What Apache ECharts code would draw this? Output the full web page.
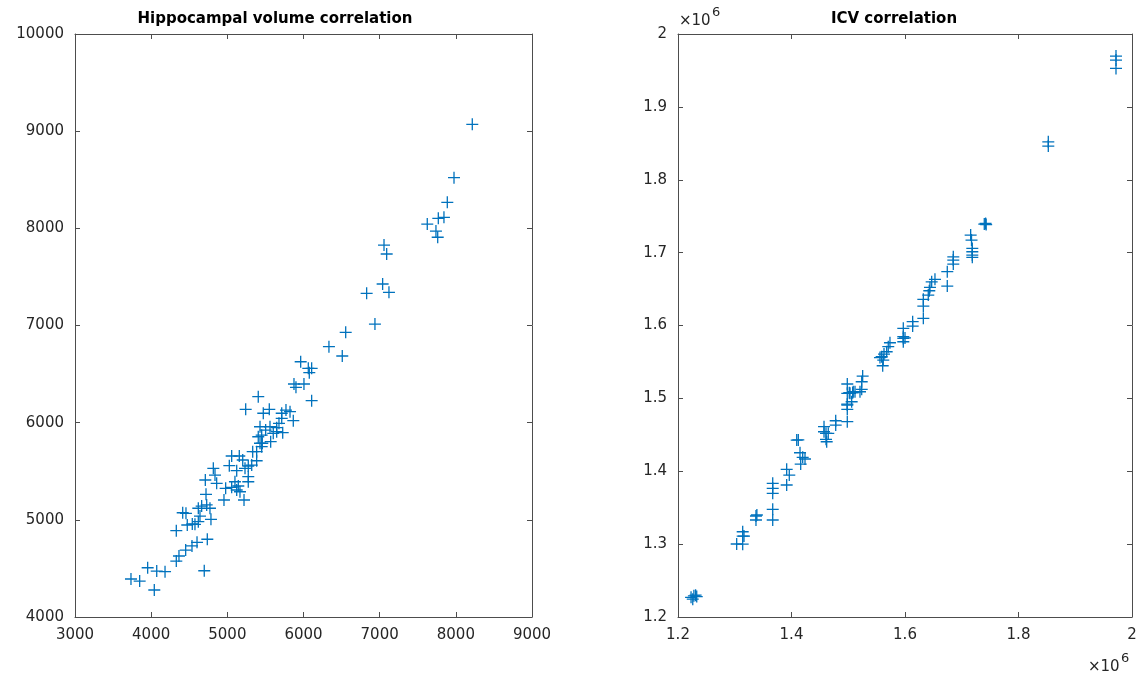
<!DOCTYPE html>
<html>
<head>
<meta charset="utf-8">
<script src="https://cdn.jsdelivr.net/npm/echarts@6/dist/echarts.min.js"></script>
<style>
  html, body { margin: 0; padding: 0; background: #ffffff; }
  #chart { width: 1142px; height: 677px; }
</style>
</head>
<body>
<div id="chart"></div>
<script>
// Hippocampal volume: measured (x) vs. estimated (y)
const hippoX = [3735,3849,3954,4041,4073,4182,4697,4330,4365,4453,4536,4602,4737,4330,4474,4540,4575,4619,4785,4414,
  4457,4641,4619,4663,4729,4772,4720,4956,5219,4978,5057,5144,5123,5166,5100,5275,4860,4711,4816,4838,
  5026,5057,5157,5202,5123,5232,5275,5275,5320,5385,5333,5385,5451,5459,5406,5429,5503,5569,5560,5603,
  5648,5727,5678,5714,5714,5770,5823,5866,5472,5551,5241,5406,5875,6006,5901,6107,5963,6063,6107,6076,
  6334,6509,6554,6829,6938,7039,7122,7057,7092,7625,7739,7762,7770,7844,7888,7976,8216,5648,5451,5429];
const hippoY = [4391,4370,4507,4278,4473,4466,4476,4576,4628,4689,4731,4769,4800,4888,4947,4957,4954,4981,5005,5073,
  5067,5039,5119,5142,5153,5119,5263,5204,5204,5324,5335,5348,5307,5289,5392,5392,5376,5410,5530,5461,
  5557,5657,5657,5616,5506,5530,5444,5554,5564,5608,5701,5701,5753,5788,5855,5958,5924,5804,5958,5890,
  5907,5897,5993,6045,6097,6130,6113,6020,6097,6137,6137,6267,6398,6398,6364,6226,6627,6559,6559,6514,
  6782,6686,6930,7331,7015,7427,7341,7828,7736,8044,7972,7908,8103,8113,8268,8521,9070,5948,5871,5788];

// Intracranial volume: measured (x) vs. estimated (y)
const icvX = [1223000,1228000,1226000,1233000,1231000,1303400,1314000,1314000,1316300,1314000,1337400,1337400,1339000,
  1366900,1366900,1366900,1366900,1366900,1391500,1396100,1391500,1409200,1412000,1415000,1419700,1423800,1416200,
  1457300,1457300,1460800,1464800,1460800,1462000,1477900,1477900,1498300,1498300,1498300,1498300,1503100,1507800,
  1511900,1506000,1498300,1523700,1523700,1520700,1525400,1508800,1501800,1498300,1558900,1555900,1561700,1560700,
  1563000,1567700,1570500,1573500,1597000,1597000,1597000,1597000,1600000,1613500,1613500,1632300,1632300,1632300,
  1641000,1642800,1644000,1647000,1652800,1674500,1674500,1685100,1685100,1685100,1715700,1717200,1718600,1718600,
  1718600,1718600,1739700,1742000,1743000,1852500,1852500,1971800,1971800,1971800];
const icvY = [1227000,1229000,1224500,1228000,1230000,1300200,1300000,1311000,1311000,1317000,1338600,1333100,1340000,
  1383400,1376600,1369700,1347800,1333100,1402600,1394800,1381100,1442800,1443000,1425400,1419100,1416800,1409900,
  1461100,1454200,1452000,1452000,1443800,1440500,1469300,1463400,1468000,1490900,1485000,1506900,1506900,1507700,
  1509100,1495400,1519700,1522800,1512400,1509100,1530600,1509100,1507700,1492200,1557100,1556000,1552600,1544800,
  1560800,1564000,1570900,1576300,1596100,1584600,1582300,1577700,1583000,1605200,1599200,1635900,1626700,1609800,
  1641800,1647700,1652300,1660000,1663300,1673800,1654100,1694300,1689800,1684300,1724100,1717200,1705800,1701200,
  1696700,1693500,1739200,1740000,1738500,1852100,1846200,1969700,1964200,1952800];

// Axis tick settings
const hippoXTicks = { min: 3000, max: 9000, interval: 1000 };
const hippoYTicks = { min: 4000, max: 10000, interval: 1000 };
const icvXTicks = { min: 1200000, max: 2000000, interval: 200000 };
const icvYTicks = { min: 1200000, max: 2000000, interval: 100000 };

const INK = '#262626';
const BOX = '#4d4d4d';
const MARK = '#0072BD';
const FONT = '"DejaVu Sans", "Liberation Sans", Arial, sans-serif';

const grids = [
  { left: 75, top: 34, width: 457, height: 583 },
  { left: 678, top: 34, width: 454, height: 583 }
];

function axis(dim, gridIndex, ticks, position, showLabels, fmt) {
  return {
    type: 'value',
    gridIndex: gridIndex,
    position: position,
    min: ticks.min, max: ticks.max, interval: ticks.interval,
    splitLine: { show: false },
    axisLine: { show: true, onZero: false, lineStyle: { color: BOX, width: 1 } },
    axisTick: { show: true, inside: true, length: 5, lineStyle: { color: BOX, width: 1 } },
    axisLabel: {
      show: showLabels,
      color: INK,
      fontFamily: FONT,
      fontSize: 15,
      margin: dim === 'x' ? 11 : 11,
      formatter: fmt
    }
  };
}

const plain = v => String(v);
const mega = v => String(+(v / 1e6).toFixed(1));

const plusSymbol = 'path://M0,-1L0,1M-1,0L1,0';
function scatter(xi, xs, ys) {
  return {
    type: 'scatter',
    xAxisIndex: xi, yAxisIndex: xi,
    symbol: plusSymbol,
    symbolSize: 12,
    itemStyle: { color: 'rgba(0,0,0,0)', borderColor: MARK, borderWidth: 1.3, opacity: 1 },
    emphasis: { disabled: true },
    data: xs.map((x, i) => [x, ys[i]])
  };
}

const chart = echarts.init(document.getElementById('chart'), null, { renderer: 'canvas' });
chart.setOption({
  animation: false,
  backgroundColor: '#ffffff',
  grid: grids,
  xAxis: [
    axis('x', 0, hippoXTicks, 'bottom', true, plain),
    axis('x', 1, icvXTicks, 'bottom', true, mega),
    axis('x', 0, hippoXTicks, 'top', false, plain),
    axis('x', 1, icvXTicks, 'top', false, mega)
  ],
  yAxis: [
    axis('y', 0, hippoYTicks, 'left', true, plain),
    axis('y', 1, icvYTicks, 'left', true, mega),
    axis('y', 0, hippoYTicks, 'right', false, plain),
    axis('y', 1, icvYTicks, 'right', false, mega)
  ],
  series: [
    scatter(0, hippoX, hippoY),
    scatter(1, icvX, icvY)
  ],
  graphic: [
    { type: 'text', x: 275, y: 19, style: { text: 'Hippocampal volume correlation', font: 'bold 15px ' + FONT, fill: '#000', textAlign: 'center', textVerticalAlign: 'middle' } },
    { type: 'text', x: 894, y: 19, style: { text: 'ICV correlation', font: 'bold 15px ' + FONT, fill: '#000', textAlign: 'center', textVerticalAlign: 'middle' } },
    // exponent marker for the right-hand y axis
    { type: 'text', x: 679, y: 21, style: { text: '×10', font: '15px ' + FONT, fill: INK, textAlign: 'left', textVerticalAlign: 'middle' } },
    { type: 'text', x: 712, y: 13, style: { text: '6', font: '13px ' + FONT, fill: INK, textAlign: 'left', textVerticalAlign: 'middle' } },
    // exponent marker for the right-hand x axis
    { type: 'text', x: 1088, y: 667, style: { text: '×10', font: '15px ' + FONT, fill: INK, textAlign: 'left', textVerticalAlign: 'middle' } },
    { type: 'text', x: 1121, y: 659, style: { text: '6', font: '13px ' + FONT, fill: INK, textAlign: 'left', textVerticalAlign: 'middle' } }
  ]
});
</script>
</body>
</html>
